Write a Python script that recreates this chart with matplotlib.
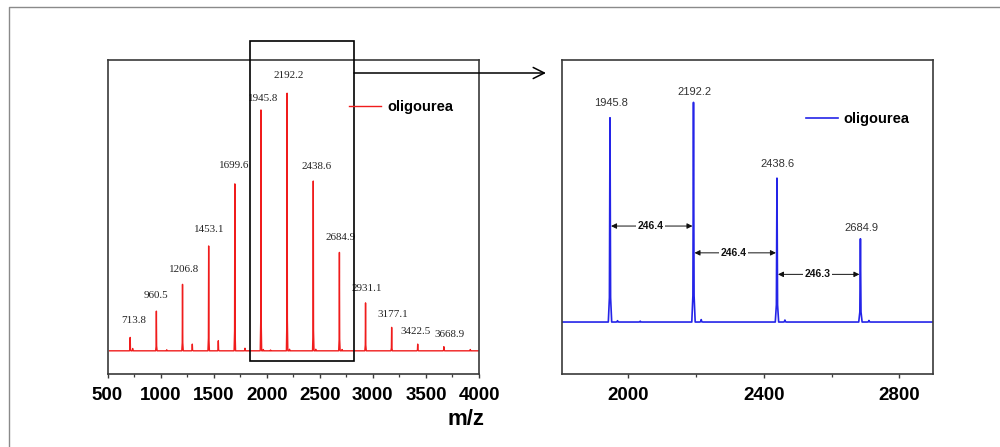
import matplotlib
matplotlib.use("Agg")
import matplotlib.pyplot as plt
from matplotlib.patches import Rectangle, FancyArrowPatch
from matplotlib.lines import Line2D
from matplotlib.ticker import MultipleLocator

# labelled peaks (m/z) and relative intensities (tallest = 100)
peaks = [713.8, 960.5, 1206.8, 1453.1, 1699.6, 1945.8, 2192.2,
         2438.6, 2684.9, 2931.1, 3177.1, 3422.5, 3668.9]
inten = [5.2, 15.4, 25.8, 40.7, 64.8, 93.5, 100.0,
         65.9, 38.2, 18.6, 9.1, 2.6, 1.6]

# small unlabelled peaks in the full spectrum
minor_mz = [737, 1058, 1299, 1544, 1795, 1968, 2036, 2215, 2462, 2710, 3918]
minor_int = [0.9, 0.4, 2.6, 3.9, 1.0, 0.5, 0.3, 0.6, 0.6, 0.5, 0.5]

# zoomed region: four peaks and their satellites
zoom_mz = [1945.8, 2192.2, 2438.6, 2684.9]
zoom_int = [93.0, 100.0, 65.5, 37.9]
zoom_minor_mz = [1968, 2035, 2215, 2462, 2710]
zoom_minor_int = [0.6, 0.4, 1.1, 0.9, 0.7]

SERIF = "Liberation Serif"
SANS = "Liberation Sans"


def trace(mz, h, lo, hi, hw):
    xs, ys = [lo], [0.0]
    for m, v in sorted(zip(mz, h)):
        xs += [m - hw, m - hw * 0.35, m, m + hw * 0.35, m + hw]
        ys += [0.0, v * 0.12, v, v * 0.12, 0.0]
    xs.append(hi)
    ys.append(0.0)
    return xs, ys


def style_axes(ax, major, minor):
    for s in ax.spines.values():
        s.set_color("#3a3a3a")
        s.set_linewidth(1.2)
    ax.set_yticks([])
    ax.xaxis.set_major_locator(MultipleLocator(major))
    ax.xaxis.set_minor_locator(MultipleLocator(minor))
    ax.tick_params(axis="x", which="major", direction="out", length=3.2,
                   width=1.0, color="#3a3a3a", pad=6)
    ax.tick_params(axis="x", which="minor", direction="out", length=2.0,
                   width=0.9, color="#3a3a3a")
    for lab in ax.get_xticklabels():
        lab.set_fontfamily(SANS)
        lab.set_fontweight("bold")
        lab.set_fontsize(13.5)


fig = plt.figure(figsize=(10, 4.47), dpi=100)
W, H = 1000.0, 447.0

# thin outer frame
fig.add_artist(Line2D([9 / W, 9 / W, 1.0], [0.0, 1 - 7 / H, 1 - 7 / H],
                      transform=fig.transFigure, color="#8a8a8a", lw=1.0))

# ---- full spectrum ----
ax1 = fig.add_axes([107.5 / W, 73 / H, 371.5 / W, 314 / H])
x, y = trace(peaks + minor_mz, inten + minor_int, 520, 4000, 7)
ax1.plot(x, y, color="#f01c1c", lw=1.0, label="oligourea")
ax1.set_xlim(500, 4000)
ax1.set_ylim(-9.0, 112.9)
style_axes(ax1, 500, 250)

# label offsets (points) from each peak tip
lab_dx = [2.2, -0.4, 1.2, 0.2, -0.7, 1.4, 1.2, 2.7, 0.7, 0.9, 0.9, -1.9, 3.9]
lab_dy = [12.2, 11.5, 10.8, 12.2, 13.0, 8.6, 13.0, 10.8, 10.8, 10.1, 9.4, 9.4, 8.6]
for m, v, dx, dy in zip(peaks, inten, lab_dx, lab_dy):
    ax1.annotate(f"{m:.1f}", xy=(m, v), xytext=(dx, dy), textcoords="offset points",
                 ha="center", va="center", fontsize=7.9, family=SERIF, color="#222222")

ax1.legend(loc="center left", bbox_to_anchor=(0.650, 0.851), frameon=False,
           borderpad=0, borderaxespad=0, handlelength=2.2, handletextpad=0.4,
           prop={"family": SANS, "weight": "bold", "size": 10.5})

fig.text(466 / W, 1 - 419.5 / H, "m/z", ha="center", va="center",
         family=SANS, weight="bold", fontsize=16)

# box marking the zoomed region
ax1.add_patch(Rectangle((1842, -4.0), 2822 - 1842, 120.4 + 4.0, fill=False,
                        ec="black", lw=1.2, clip_on=False, zorder=5))

# pointer to the zoomed panel
fig.add_artist(FancyArrowPatch(
    (354 / W, 1 - 73 / H), (546 / W, 1 - 73 / H), transform=fig.transFigure,
    arrowstyle="->", mutation_scale=20, lw=1.1, color="black",
    shrinkA=0, shrinkB=0))

# ---- zoomed spectrum ----
ax2 = fig.add_axes([562.3 / W, 72.7 / H, 371 / W, 314.3 / H])
x, y = trace(zoom_mz + zoom_minor_mz, zoom_int + zoom_minor_int, 1805, 2900, 5)
ax2.plot(x, y, color="#2424e8", lw=1.2, label="oligourea")
ax2.set_xlim(1805, 2900)
ax2.set_ylim(-23.8, 119.3)
style_axes(ax2, 400, 200)

label_dy = [10.5, 7.5, 10.5, 7.5]
for m, v, dy in zip(zoom_mz, zoom_int, label_dy):
    ax2.annotate(f"{m:.1f}", xy=(m, v), xytext=(0.5, dy), textcoords="offset points",
                 ha="center", va="center", fontsize=8, family=SANS, color="#333333")

# spacing between consecutive peaks
gap_y = [43.7, 31.5, 21.7]
for a, b, gy in zip(zoom_mz[:-1], zoom_mz[1:], gap_y):
    ax2.annotate("", xy=(b - 3, gy), xytext=(a + 3, gy),
                 arrowprops=dict(arrowstyle="<|-|>", mutation_scale=8, lw=0.7,
                                 color="#111111", shrinkA=0, shrinkB=0))
    ax2.text((a + b) / 2 - 4, gy, f"{b - a:.1f}", ha="center", va="center",
             fontsize=7.5, family=SANS, weight="bold", color="#111111",
             bbox=dict(boxstyle="square,pad=0.15", fc="white", ec="none"))

ax2.legend(loc="center left", bbox_to_anchor=(0.656, 0.811), frameon=False,
           borderpad=0, borderaxespad=0, handlelength=2.2, handletextpad=0.4,
           prop={"family": SANS, "weight": "bold", "size": 10.5})

fig.savefig("out.png", dpi=100)
